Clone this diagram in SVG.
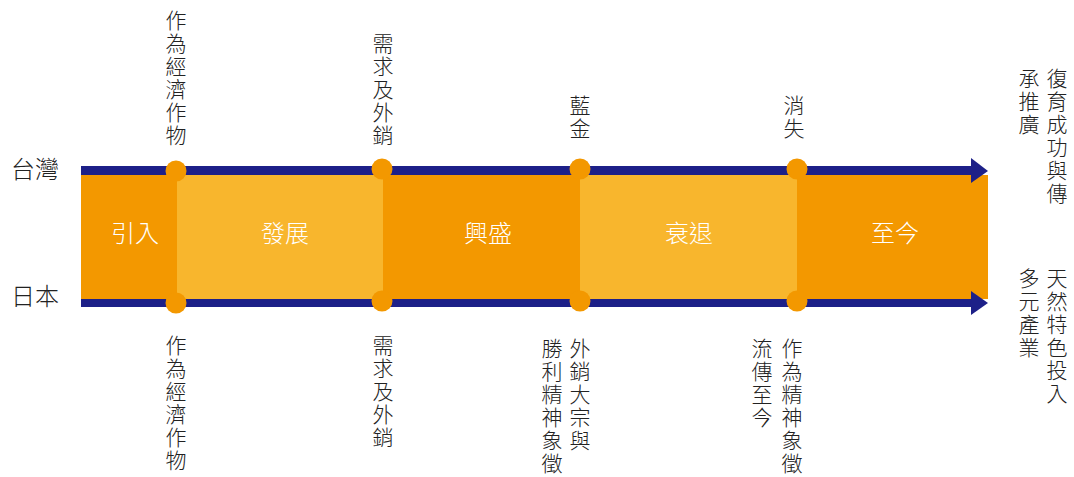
<svg xmlns="http://www.w3.org/2000/svg" width="1074" height="477" viewBox="0 0 1074 477">
<style>
.v{font-family:"Noto Sans CJK TC","Noto Sans CJK SC",sans-serif;font-weight:300;font-size:21px;fill:#222;writing-mode:vertical-rl;letter-spacing:2px}
.h{font-family:"Noto Sans CJK TC","Noto Sans CJK SC",sans-serif;font-weight:300;font-size:24px;fill:#222}
.w{font-family:"Noto Sans CJK TC","Noto Sans CJK SC",sans-serif;font-weight:300;font-size:24px;fill:#fff;text-anchor:middle;dominant-baseline:central}
.dk{fill:#F39800}
.lt{fill:#F8B62D}
.nv{fill:#1D2088}
.dot{fill:#F39800}
</style>
<g id="band">
<rect class="dk" x="81" y="175" width="96" height="124"/>
<rect class="lt" x="177" y="175" width="206" height="124"/>
<rect class="dk" x="383" y="175" width="197" height="124"/>
<rect class="lt" x="580" y="175" width="217" height="124"/>
<rect class="dk" x="797" y="175" width="191" height="124"/>
</g>
<g id="connectors">
<rect class="nv" x="81" y="166" width="892" height="9"/>
<polygon class="nv" points="971,158 988,171 971,183"/>
<rect class="nv" x="81" y="299" width="892" height="8"/>
<polygon class="nv" points="971,291 988,303 971,315"/>
</g>
<g id="dots">
<circle class="dot" cx="176" cy="171" r="10.5"/>
<circle class="dot" cx="382" cy="169" r="10.5"/>
<circle class="dot" cx="580" cy="169" r="10.5"/>
<circle class="dot" cx="797" cy="169" r="10.5"/>
<circle class="dot" cx="176" cy="303" r="10.5"/>
<circle class="dot" cx="382" cy="301" r="10.5"/>
<circle class="dot" cx="580" cy="301" r="10.5"/>
<circle class="dot" cx="797" cy="301" r="10.5"/>
</g>
<g id="axis-labels">
<text class="h" x="11" y="178">台灣</text>
<text class="h" x="11" y="305">日本</text>
</g>
<g id="stages">
<text class="w" x="135" y="231">引入</text>
<text class="w" x="285" y="231">發展</text>
<text class="w" x="488" y="231">興盛</text>
<text class="w" x="689" y="231">衰退</text>
<text class="w" x="895" y="231">至今</text>
</g>
<g id="top-labels">
<text class="v" x="176" y="10">作為經濟作物</text>
<text class="v" x="383" y="33">需求及外銷</text>
<text class="v" x="580" y="95">藍金</text>
<text class="v" x="794" y="95">消失</text>
</g>
<g id="bottom-labels">
<text class="v" x="176" y="335">作為經濟作物</text>
<text class="v" x="383" y="335">需求及外銷</text>
<text class="v" x="580" y="338">外銷大宗與</text>
<text class="v" x="552" y="338">勝利精神象徵</text>
<text class="v" x="792" y="338">作為精神象徵</text>
<text class="v" x="762" y="338">流傳至今</text>
</g>
<g id="right-labels">
<text class="v" x="1057" y="68">復育成功與傳</text>
<text class="v" x="1029" y="68">承推廣</text>
<text class="v" x="1057" y="268">天然特色投入</text>
<text class="v" x="1029" y="268">多元產業</text>
</g>
</svg>
